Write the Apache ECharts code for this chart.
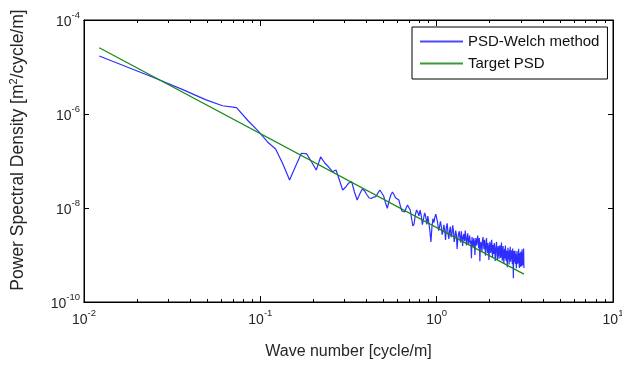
<!DOCTYPE html>
<html><head><meta charset="utf-8">
<script src="https://cdn.jsdelivr.net/npm/echarts@6/dist/echarts.min.js"></script>
<style>html,body{margin:0;padding:0;background:#fff}#c{width:622px;height:368px}</style>
</head><body><div id="c"></div>
<script>
// frequency resolution of the Welch estimate [cycle/m]
const df = 0.012207;
// PSD-Welch method, one value per frequency bin k*df (k = 1..256)
const welchPsd = [
  1.71e-5, 6.12e-6, 3.26e-6, 2.02e-6, 1.50e-6, 1.37e-6, 7.1e-7, 4.28e-7, 2.54e-7, 1.80e-7,
  8.63e-8, 3.94e-8, 7.83e-8, 1.46e-7, 1.42e-7, 9.5e-8, 6.44e-8, 1.22e-7, 9.06e-8, 7.45e-8,
  5.92e-8, 6.44e-8, 3.94e-8, 2.42e-8, 2.80e-8, 3.41e-8, 3.63e-8, 2.19e-8, 1.48e-8, 1.99e-8,
  2.54e-8, 2.30e-8, 1.89e-8, 1.63e-8, 1.61e-8, 1.71e-8, 1.74e-8, 2.08e-8, 2.42e-8, 2.62e-8,
  1.80e-8, 1.28e-8, 9.86e-9, 1.41e-8, 1.89e-8, 2.19e-8, 1.89e-8, 1.63e-8, 1.55e-8, 1.48e-8,
  1.10e-8, 8.63e-9, 7.83e-9, 8.2e-9, 1.0e-8, 1.16e-8, 1.10e-8, 9.06e-9, 6.12e-9, 4.14e-9,
  4.6e-9, 7.1e-9, 9.06e-9, 8.2e-9, 6.76e-9, 9.06e-9,
  6.9e-9, 4.4e-9, 5.9e-9, 7.9e-9, 6.6e-9, 4.5e-9, 6.7e-9, 4.7e-9, 3.2e-9, 1.9e-9,
  3.9e-9, 5.9e-9, 4.9e-9, 6.4e-9, 7.4e-9, 7.6e-9, 4.8e-9, 3.3e-9, 3.9e-9, 5.2e-9,
  4.1e-9, 2.7e-9, 3.2e-9, 4.4e-9, 3.4e-9, 2.1e-9, 3.9e-9, 4.7e-9, 2.9e-9, 2.2e-9,
  3.3e-9, 4.0e-9, 2.4e-9, 2.8e-9, 4.3e-9, 3.2e-9, 1.9e-9, 2.4e-9, 3.3e-9, 2.7e-9,
  1.35e-9, 2.2e-9, 2.8e-9, 3.2e-9, 2.3e-9, 1.85e-9, 3.2e-9, 2.4e-9, 1.55e-9, 2.5e-9,
  2.8e-9, 2.0e-9, 3.3e-9, 2.3e-9, 1.6e-9, 2.4e-9, 2.9e-9, 1.7e-9, 2.0e-9, 2.6e-9,
  1.75e-9, 2.0e-9, 8.5e-10, 2.4e-9, 1.8e-9, 1.5e-9, 2.3e-9, 1.85e-9, 1.0e-9, 1.95e-9,
  2.3e-9, 1.6e-9, 2.0e-9, 2.6e-9, 1.8e-9, 1.4e-9, 2.3e-9, 7.4e-10, 1.6e-9, 1.9e-9,
  1.55e-9, 1.17e-9, 2.0e-9, 2.4e-9, 1.7e-9, 1.33e-9, 2.1e-9, 1.5e-9, 9.6e-10, 1.7e-9,
  2.3e-9, 1.45e-9, 1.1e-9, 1.8e-9, 1.5e-9, 7.8e-10, 1.25e-9, 1.9e-9, 1.5e-9, 1.1e-9,
  1.55e-9, 2.1e-9, 1.25e-9, 8.9e-10, 1.65e-9, 1.3e-9, 1.05e-9, 1.8e-9, 1.35e-9, 7.5e-10,
  1.2e-9, 1.45e-9, 1.9e-9, 1.05e-9, 7.8e-10, 1.3e-9, 1.55e-9, 1.05e-9, 8.3e-10, 1.4e-9,
  1.6e-9, 1.15e-9, 8.6e-10, 1.35e-9, 1.85e-9, 1.05e-9, 7.6e-10, 1.25e-9, 1.55e-9, 9.4e-10,
  6.6e-10, 1.1e-9, 1.35e-9, 8.4e-10, 1.6e-9, 1.0e-9, 7.5e-10, 1.25e-9, 9.2e-10, 5.5e-10,
  1.08e-9, 1.43e-9, 8.2e-10, 1.1e-9, 6.3e-10, 1.26e-9, 9.1e-10, 1.5e-9, 7.2e-10, 9.4e-10,
  1.26e-9, 8.1e-10, 1.02e-9, 6.4e-10, 1.37e-9, 8.9e-10, 3.2e-10, 1.02e-9, 1.22e-9, 7.0e-10,
  9.5e-10, 1.23e-9, 6.4e-10, 8.7e-10, 1.06e-9, 5.2e-10, 7.6e-10, 1.22e-9, 8.8e-10, 6.5e-10,
  9.6e-10, 6.8e-10, 1.35e-9, 8.0e-10, 5.3e-10, 1.1e-9, 7.0e-10, 8.6e-10, 5.6e-10, 1.19e-9,
  7.2e-10, 1.0e-9, 5.8e-10, 1.32e-9, 7.8e-10, 6.1e-10, 1.08e-9, 7.2e-10, 1.38e-9, 5.3e-10
];
// Target PSD (straight line in log-log)
const targetFreq = [0.0122, 3.125];
const targetPsd = [2.57e-5, 3.92e-10];
// ticks
const xMajorTicks = [0.01, 0.1, 1, 10];
const xMinorTicks = [0.02,0.03,0.04,0.05,0.06,0.07,0.08,0.09,0.2,0.3,0.4,0.5,0.6,0.7,0.8,0.9,2,3,4,5,6,7,8,9];
const yMajorTicks = [1e-10, 1e-8, 1e-6, 1e-4];

const FONT = 'Liberation Sans, Arial, sans-serif';
const TXT = '#262626';
const powFmt = v => '{b|10}{e|' + Math.round(Math.log10(v)) + '}';
const powRich = {
  b: {fontSize: 14, fontFamily: FONT, color: TXT, verticalAlign: 'bottom', lineHeight: 19},
  e: {fontSize: 9.5, fontFamily: FONT, color: TXT, verticalAlign: 'bottom', lineHeight: 19, padding: [0, 0, 9, 0]}
};
const tickStyle = {color: '#000', width: 1};

function xAx(pos, ticks, len, withLabel) {
  const a = {
    type: 'log', logBase: 10, min: 0.01, max: 10, position: pos, gridIndex: 0,
    axisLine: {show: true, onZero: false, lineStyle: {color: '#000', width: 1}},
    axisTick: {show: true, inside: true, length: len, customValues: ticks, lineStyle: tickStyle},
    axisLabel: {show: withLabel},
    splitLine: {show: false}, minorTick: {show: false}
  };
  if (withLabel) {
    a.axisLabel = {show: true, customValues: xMajorTicks, formatter: powFmt, rich: powRich, margin: 6};
    a.name = 'Wave number [cycle/m]';
    a.nameLocation = 'middle';
    a.nameGap = 42;
    a.nameTextStyle = {fontSize: 16, fontFamily: FONT, color: TXT};
  }
  return a;
}
function yAx(pos, withLabel) {
  const a = {
    type: 'log', logBase: 10, min: 1e-10, max: 1e-4, position: pos, gridIndex: 0,
    axisLine: {show: true, onZero: false, lineStyle: {color: '#000', width: 1}},
    axisTick: {show: true, inside: true, length: 5, customValues: yMajorTicks, lineStyle: tickStyle},
    axisLabel: {show: false},
    splitLine: {show: false}, minorTick: {show: false}
  };
  if (withLabel) {
    a.axisLabel = {show: true, customValues: yMajorTicks, formatter: powFmt, rich: powRich, margin: 4};
    a.name = 'Power Spectral Density [m{s|2}/cycle/m]';
    a.nameLocation = 'middle';
    a.nameGap = 56;
    a.nameRotate = 90;
    a.nameTextStyle = {fontSize: 17.5, fontFamily: FONT, color: TXT, padding: [0, 0, 0, 22],
      rich: {s: {fontSize: 11, fontFamily: FONT, color: TXT, padding: [0, 0, 9, 0], verticalAlign: 'bottom'}}};
  }
  return a;
}

const chart = echarts.init(document.getElementById('c'), null, {renderer: 'canvas'});
chart.setOption({
  animation: false,
  backgroundColor: '#fff',
  grid: {left: 84, right: 9, top: 20, bottom: 66, containLabel: false, outerBoundsMode: 'none',
         show: true, borderColor: '#000', borderWidth: 1, backgroundColor: '#fff'},
  legend: {
    orient: 'vertical', left: 412, top: 27,
    padding: [6, 8, 7, 8], itemGap: 5, itemWidth: 43, itemHeight: 2,
    icon: 'rect',
    backgroundColor: '#fff', borderColor: '#000', borderWidth: 1, borderRadius: 0,
    textStyle: {fontSize: 15, fontFamily: FONT, color: '#111', lineHeight: 17},
    data: ['PSD-Welch method', 'Target PSD']
  },
  xAxis: [xAx('bottom', xMajorTicks, 6, true), xAx('bottom', xMinorTicks, 3, false),
          xAx('top', xMajorTicks, 6, false), xAx('top', xMinorTicks, 3, false)],
  yAxis: [yAx('left', true), yAx('right', false)],
  series: [
    {name: 'PSD-Welch method', type: 'line', xAxisIndex: 0, yAxisIndex: 0,
     data: welchPsd.map((v, i) => [(i + 1) * df, v]),
     symbol: 'none', showSymbol: false, sampling: null,
     lineStyle: {color: '#2e2eff', width: 1.2}, itemStyle: {color: '#4a4aff'}},
    {name: 'Target PSD', type: 'line', xAxisIndex: 0, yAxisIndex: 0,
     data: targetFreq.map((f, i) => [f, targetPsd[i]]),
     symbol: 'none', showSymbol: false,
     lineStyle: {color: '#138a13', width: 1.2}, itemStyle: {color: '#3a9a3a'}}
  ]
});
</script></body></html>
